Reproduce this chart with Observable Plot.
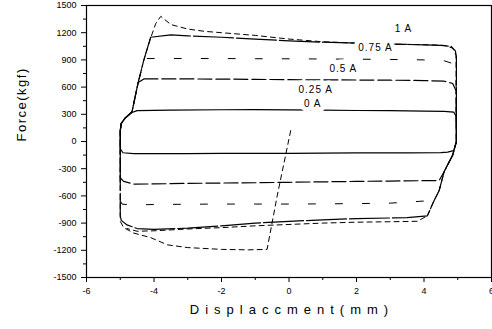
<!DOCTYPE html>
<html><head><meta charset="utf-8">
<script src="https://cdn.jsdelivr.net/npm/d3@7"></script>
<script src="https://cdn.jsdelivr.net/npm/@observablehq/plot@0.6"></script>
<style>
html,body{margin:0;padding:0;background:#fff;}
#chart svg{font-family:"Liberation Sans",Arial,sans-serif;}
</style></head><body><div id="chart"></div>
<script>
// tick values
const majorX = [-6, -4, -2, 0, 2, 4, 6];
const minorX = [-5, -3, -1, 1, 3, 5];
const majorY = [-1500, -1200, -900, -600, -300, 0, 300, 600, 900, 1200, 1500];
const minorY = [-1350, -1050, -750, -450, -150, 150, 450, 750, 1050, 1350];

// series: displacement (mm) and force (kgf) for each current
const disp0A = [-4.5, -3.5, -2, -1, 0, 1, 2, 3, 4, 4.6, 4.88, 4.95, 4.96, 4.88, 4.7, 4.5, 3.5, 2, 1, 0, -1, -2, -3, -4, -4.6, -4.92, -5.0, -5.0, -4.97, -4.85, -4.65, -4.5];
const force0A = [340, 345, 350, 352, 348, 345, 342, 340, 335, 332, 325, 280, 0, -100, -118, -122, -125, -126, -128, -130, -132, -132, -133, -134, -133, -124, -80, 120, 200, 260, 320, 340];

const disp025A = [-4.3, -3, -2, -1, 0, 1, 2, 3, 4, 4.6, 4.85, 4.95, 4.96, 4.85, 4.6, 4.45, 4, 3, 2, 1, 0, -1, -2, -3, -4, -4.6, -4.9, -5.0, -5.0, -4.97, -4.85, -4.65, -4.47, -4.3];
const force025A = [690, 690, 688, 685, 682, 680, 678, 676, 672, 665, 640, 560, 0, -150, -330, -430, -432, -436, -440, -445, -450, -455, -458, -462, -468, -470, -440, -400, 120, 200, 260, 330, 650, 690];

const disp05A = [-4.2, -3, -2, -1, 0, 1, 2, 3, 4, 4.6, 4.85, 4.95, 4.96, 4.85, 4.6, 4.45, 4.3, 3, 2, 1, 0, -1, -2, -3, -4, -4.7, -4.95, -5.0, -5.0, -4.97, -4.85, -4.65, -4.47, -4.3, -4.2];
const force05A = [915, 915, 915, 913, 912, 910, 908, 905, 900, 890, 860, 800, 0, -150, -330, -540, -650, -680, -685, -688, -690, -690, -690, -692, -695, -700, -690, -650, 120, 200, 260, 330, 650, 880, 915];

const disp075A = [-4.1, -3.5, -3, -2, -1, 0, 1, 2, 3, 4, 4.5, 4.8, 4.93, 4.96, 4.96, 4.85, 4.6, 4.45, 4.3, 4.1, 3.5, 2, 1, 0, -1, -2, -3, -4, -4.5, -4.8, -4.97, -5.0, -5.0, -4.97, -4.85, -4.65, -4.47, -4.3, -4.1];
const force075A = [1150, 1175, 1165, 1150, 1130, 1110, 1095, 1085, 1075, 1065, 1060, 1050, 1000, 930, 0, -150, -330, -540, -650, -820, -840, -850, -865, -880, -900, -930, -955, -970, -960, -920, -870, -820, 120, 200, 260, 330, 650, 900, 1150];

const disp1A = [0.05, -0.1, -0.35, -0.65, -1.2, -2, -3, -3.6, -4.1, -4.6, -4.9, -5.0, -5.0, -4.97, -4.85, -4.65, -4.47, -4.3, -4.1, -3.95, -3.8, -3.5, -3, -2.5, -2, -1, 0, 1, 2, 3, 4, 4.6, 4.85, 4.95, 4.96, 4.85, 4.6, 4.45, 4.3, 4.1, 3.8, 3, 2, 1, 0, -1, -2, -3, -4, -4.5, -4.8];
const force1A = [120, -150, -600, -1190, -1195, -1190, -1170, -1140, -1060, -1010, -950, -880, 120, 200, 260, 330, 650, 900, 1140, 1300, 1380, 1290, 1240, 1215, 1200, 1170, 1130, 1100, 1085, 1075, 1068, 1060, 1030, 950, 0, -150, -330, -540, -650, -820, -880, -885, -890, -900, -915, -930, -950, -965, -985, -990, -960];

// curve labels
const labelText = ["1 A", "0.75 A", "0.5 A", "0.25 A", "0 A"];
const labelX = [3.39, 2.56, 1.61, 0.79, 0.70];
const labelY = [1246, 1037, 805, 574, 419];

const toRows = (xs, ys) => xs.map((x, i) => ({x, y: ys[i]}));
const series = [
  {rows: toRows(disp0A, force0A), dash: null, w: 1.2},
  {rows: toRows(disp025A, force025A), dash: "14,4", w: 1.2},
  {rows: toRows(disp05A, force05A), dash: "7,20", w: 1},
  {rows: toRows(disp075A, force075A), dash: "40,3", w: 1.2},
  {rows: toRows(disp1A, force1A), dash: "5,4", w: 1}
];
const labels = labelText.map((t, i) => ({t, x: labelX[i], y: labelY[i]}));

const plot = Plot.plot({
  width: 492,
  height: 329,
  marginLeft: 86,
  marginRight: 1,
  marginTop: 5,
  marginBottom: 52,
  style: {fontSize: "9px", fontFamily: "Liberation Sans, Arial, sans-serif", background: "white"},
  x: {domain: [-6, 6], label: null},
  y: {domain: [-1500, 1500], label: null},
  marks: [
    ...series.map(s => Plot.line(s.rows, {x: "x", y: "y", stroke: "black", strokeWidth: s.w, strokeDasharray: s.dash})),
    Plot.text(labels, {x: "x", y: "y", text: "t", fontSize: 10, fill: "white", stroke: "white", strokeWidth: 9}),
    Plot.text(labels, {x: "x", y: "y", text: "t", fontSize: 10, fill: "black"}),
    Plot.frame({stroke: "black", strokeWidth: 1.2}),
    Plot.axisX({ticks: majorX, tickSize: 5, tickPadding: 5, tickFormat: d => String(d), label: null}),
    Plot.axisX({ticks: minorX, tickSize: 3, tickFormat: () => "", label: null}),
    Plot.axisY({ticks: majorY, tickSize: 5, tickPadding: 5, tickFormat: d => String(d), label: null}),
    Plot.axisY({ticks: minorY, tickSize: 3, tickFormat: () => "", label: null}),
    Plot.text(["Force(kgf)"], {frameAnchor: "left", dx: -65, rotate: -90, fontSize: 13}),
    Plot.text(["Displaccment(mm)"], {frameAnchor: "bottom", dy: 36, dx: 3, fontSize: 13})
  ]
});
// letter spacing like the original figure
plot.querySelectorAll("text").forEach(t => {
  const s = t.textContent;
  if (s === "Displaccment(mm)") t.style.letterSpacing = "6px";
  else if (s === "Force(kgf)") t.style.letterSpacing = "1.5px";
  else if (labelText.includes(s)) t.style.letterSpacing = "1px";
});
document.getElementById("chart").appendChild(plot);
</script></body></html>
